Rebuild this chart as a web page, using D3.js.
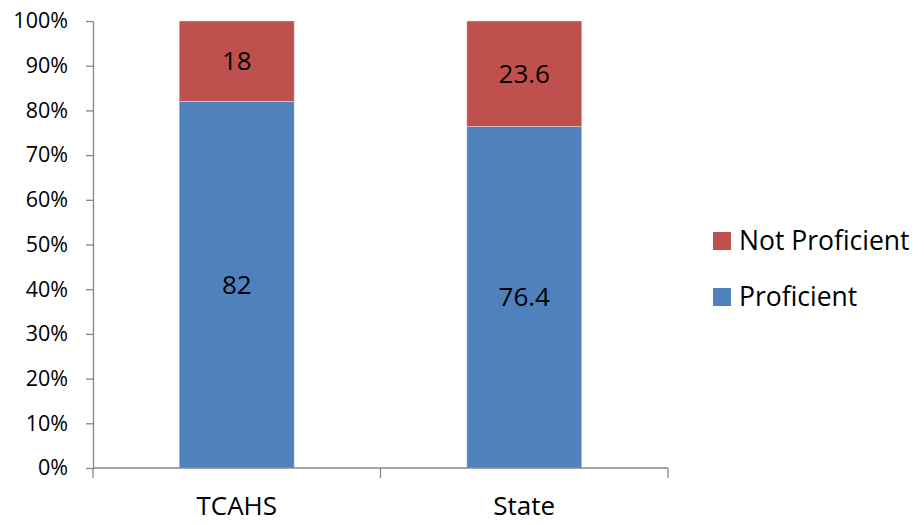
<!DOCTYPE html>
<html>
<head>
<meta charset="utf-8">
<script src="https://cdn.jsdelivr.net/npm/d3@7"></script>
<style>
  html, body { margin: 0; padding: 0; background: #fff; }
  svg { display: block; }
  text { font-family: "Open Sans", "Noto Sans", sans-serif; fill: #000; }
</style>
</head>
<body>
<svg id="chart" width="924" height="525"></svg>
<script>
// Categories and stacked series (percent of students)
const categories = ["TCAHS", "State"];
const proficient = [82, 76.4];
const notProficient = [18, 23.6];
const seriesNames = ["Proficient", "Not Proficient"];
const seriesColors = ["#4F81BD", "#C0504D"];
const yTicks = [0, 10, 20, 30, 40, 50, 60, 70, 80, 90, 100];

const svg = d3.select("#chart");
const margin = { left: 93, right: 256, top: 21, bottom: 57 };
const W = 924, H = 525;

const x = d3.scaleBand()
  .domain(categories)
  .range([margin.left, W - margin.right])
  .paddingInner(0.6)
  .paddingOuter(0.3);

const y = d3.scaleLinear()
  .domain([0, 100])
  .range([H - margin.bottom, margin.top]);

const rows = categories.map((c, i) => ({ cat: c, Proficient: proficient[i], "Not Proficient": notProficient[i] }));
const stack = d3.stack().keys(seriesNames)(rows);
const color = d3.scaleOrdinal().domain(seriesNames).range(seriesColors);
const fmt = v => Number.isInteger(v) ? d3.format("d")(v) : d3.format(".1f")(v);

// Bars
const layers = svg.append("g").selectAll("g")
  .data(stack).join("g")
  .attr("fill", d => color(d.key));

layers.selectAll("rect")
  .data(d => d.map(v => ({ key: d.key, v })))
  .join("rect")
  .attr("x", d => x(d.v.data.cat))
  .attr("y", d => y(d.v[1]))
  .attr("width", x.bandwidth())
  .attr("height", d => y(d.v[0]) - y(d.v[1]))
  .attr("stroke", "#ffffff")
  .attr("stroke-opacity", 0.35)
  .attr("stroke-width", 1);

// Value labels centered in each segment
layers.selectAll("text")
  .data(d => d.map(v => ({ key: d.key, v })))
  .join("text")
  .attr("x", d => x(d.v.data.cat) + x.bandwidth() / 2)
  .attr("y", d => (y(d.v[0]) + y(d.v[1])) / 2)
  .attr("dy", "0.35em")
  .attr("text-anchor", "middle")
  .style("font-size", "26px")
  .text(d => fmt(+(d.v.data[d.key]).toFixed(1)));

// Y axis
const yAxis = svg.append("g")
  .attr("transform", `translate(${margin.left},0)`)
  .call(d3.axisLeft(y).tickValues(yTicks).tickFormat(d => d + "%").tickSize(7).tickSizeOuter(0).tickPadding(18));
yAxis.select(".domain").attr("stroke", "#868686").attr("stroke-width", 1.3);
yAxis.selectAll(".tick line").attr("stroke", "#868686").attr("stroke-width", 1.3);
yAxis.selectAll(".tick text").style("font-size", "21.5px").style("font-family", "'Open Sans', 'Noto Sans', sans-serif").attr("fill", "#000");

// X axis with category boundary ticks
const xAxisG = svg.append("g").attr("transform", `translate(0,${y(0)})`);
xAxisG.append("line")
  .attr("x1", margin.left).attr("x2", W - margin.right)
  .attr("stroke", "#868686").attr("stroke-width", 1.3);
const boundaries = [margin.left, (x(categories[0]) + x.bandwidth() + x(categories[1])) / 2, W - margin.right];
xAxisG.selectAll("line.b").data(boundaries).join("line")
  .attr("class", "b")
  .attr("x1", d => d).attr("x2", d => d)
  .attr("y1", 0).attr("y2", 10)
  .attr("stroke", "#868686").attr("stroke-width", 1.3);
xAxisG.selectAll("text").data(categories).join("text")
  .attr("x", d => x(d) + x.bandwidth() / 2)
  .attr("y", 47)
  .attr("text-anchor", "middle")
  .style("font-size", "26px")
  .text(d => d);

// Legend
const legendItems = ["Not Proficient", "Proficient"];
const legend = svg.append("g").attr("transform", "translate(713,232)");
const li = legend.selectAll("g").data(legendItems).join("g")
  .attr("transform", (d, i) => `translate(0,${i * 56})`);
li.append("rect").attr("width", 18).attr("height", 18).attr("fill", d => color(d));
li.append("text").attr("x", 26).attr("y", 9).attr("dy", "0.35em")
  .style("font-size", "26.5px").text(d => d);
</script>
</body>
</html>
